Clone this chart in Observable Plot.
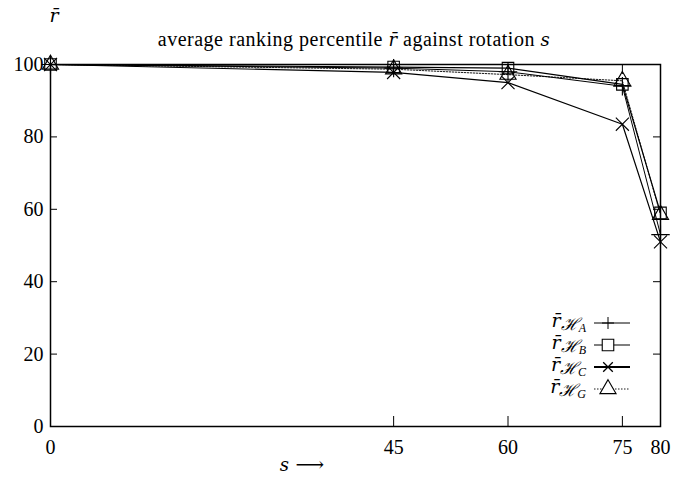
<!DOCTYPE html>
<html><head><meta charset="utf-8">
<script src="https://cdn.jsdelivr.net/npm/d3@7"></script>
<script src="https://cdn.jsdelivr.net/npm/@observablehq/plot@0.6"></script>
<style>body{margin:0;background:#fff;}</style>
</head><body><div id="chart"></div>
<script>
const rotation = [0, 45, 60, 75, 80];
const rA = [100, 99.0, 98.0, 94.0, 53.0];
const rB = [100, 99.3, 99.0, 94.5, 59.0];
const rC = [100, 97.8, 95.0, 83.5, 51.0];
const rG = [100, 98.7, 97.2, 95.5, 58.5];
const seriesNames = ["A", "B", "C", "G"];
const xTicks = [0, 45, 60, 75, 80];
const yTicks = [0, 20, 40, 60, 80, 100];
const innerXTicks = [45, 60, 75];
const innerYTicks = [20, 40, 60, 80];

const seriesVals = [rA, rB, rC, rG];
const styles = {
  A: {symbol: "plus", width: 1, dash: null, r: 6},
  B: {symbol: "square", width: 1.2, dash: null, r: 6.5},
  C: {symbol: "times", width: 1.2, dash: null, r: 6},
  G: {symbol: "triangle", width: 0.9, dash: "1.5,1.5", r: 6}
};
const rows = [];
seriesNames.forEach((n, i) => rotation.forEach((s, j) => rows.push({series: n, s, r: seriesVals[i][j]})));

const W = 673, H = 477;
const mL = 50, mR = 13, mT = 64, mB = 51;
const pw = W - mL - mR, ph = H - mT - mB;
const font = "Liberation Serif";
const italicFont = "DejaVu Serif";

const marks = [];
seriesNames.forEach(n => {
  const st = styles[n];
  const d = rows.filter(r => r.series === n);
  marks.push(Plot.line(d, {x: "s", y: "r", stroke: "black", strokeWidth: st.width, strokeDasharray: st.dash}));
  marks.push(Plot.dot(d, {x: "s", y: "r", symbol: () => st.symbol, r: st.r, stroke: "black", fill: "none", strokeWidth: 1.1}));
});

const chart = Plot.plot({
  width: W, height: H,
  marginLeft: mL, marginRight: mR, marginTop: mT, marginBottom: mB,
  style: {fontFamily: font, fontSize: "20px", color: "black", background: "white"},
  x: {domain: [0, 80], ticks: xTicks, label: null},
  y: {domain: [0, 100], ticks: yTicks, label: null},
  marks: [
    Plot.axisX({ticks: xTicks, tickSize: 0, tickPadding: 13, fontSize: 20, label: null}),
    Plot.axisY({ticks: yTicks, tickSize: 0, tickPadding: 7, fontSize: 20, label: null}),
    Plot.ruleY(innerYTicks, {stroke: "black", strokeWidth: 1, insetRight: pw - 7}),
    Plot.ruleY(innerYTicks, {stroke: "black", strokeWidth: 1, insetLeft: pw - 7}),
    Plot.ruleX(innerXTicks, {stroke: "black", strokeWidth: 1, insetTop: ph - 10}),
    Plot.ruleX(innerXTicks, {stroke: "black", strokeWidth: 1, insetBottom: ph - 10}),
    ...marks,
    Plot.frame({stroke: "black", strokeWidth: 1.5})
  ]
});
document.getElementById("chart").appendChild(chart);

const svg = d3.select(chart);
function span(sel, txt, opts = {}) {
  const s = sel.append("tspan").attr("font-family", opts.family || (opts.italic ? italicFont : font)).text(txt);
  if (opts.italic) s.attr("font-style", "italic");
  if (opts.size) s.attr("font-size", opts.size);
  if (opts.dy) s.attr("dy", opts.dy);
  return s;
}
// y label
const yl = svg.append("text").attr("x", 54).attr("y", 22).attr("text-anchor", "middle")
  .attr("font-family", font).attr("font-size", 19);
span(yl, "r\u0304", {italic: true});
// title
const t = svg.append("text").attr("x", mL + pw / 2 - 1).attr("y", 46).attr("text-anchor", "middle")
  .attr("font-family", font).attr("font-size", 20).attr("letter-spacing", 0.5);
span(t, "average ranking percentile ");
span(t, "r\u0304", {italic: true, size: 18});
span(t, " against rotation ");
span(t, "s", {italic: true, size: 18});
// x label
const xl = svg.append("text").attr("x", 302).attr("y", 471).attr("text-anchor", "middle")
  .attr("font-family", font).attr("font-size", 20);
span(xl, "s", {italic: true, size: 18});
span(xl, " \u27F6", {family: "DejaVu Serif"});

// legend
const lg = svg.append("g");
const legendY = [323, 345, 367, 389];
seriesNames.forEach((n, i) => {
  const st = styles[n];
  const y = legendY[i];
  const tx = lg.append("text").attr("x", 586).attr("y", y + 4).attr("text-anchor", "end")
    .attr("font-family", font).attr("font-size", 19);
  span(tx, "r\u0304", {italic: true});
  span(tx, "\u210B", {family: font, italic: true, size: 17, dy: 3});
  span(tx, n, {family: font, italic: true, size: 12, dy: 2});
  lg.append("line").attr("x1", 594).attr("x2", 630).attr("y1", y).attr("y2", y)
    .attr("stroke", "black").attr("stroke-width", n === "C" ? 2 : st.width).attr("stroke-dasharray", st.dash);
  if (st.symbol === "plus") {
    lg.append("path").attr("d", `M${608 - st.r},${y}H${608 + st.r}M608,${y - st.r}V${y + st.r}`).attr("stroke", "black").attr("fill", "none");
  } else if (st.symbol === "times") {
    const k = st.r * 0.8;
    lg.append("path").attr("d", `M${608 - k},${y - k}L${608 + k},${y + k}M${608 - k},${y + k}L${608 + k},${y - k}`).attr("stroke", "black").attr("stroke-width", 1.3).attr("fill", "none");
  } else {
    const sym = st.symbol === "square" ? d3.symbolSquare : d3.symbolTriangle;
    lg.append("path").attr("transform", `translate(608,${y})`).attr("d", d3.symbol(sym, st.r * st.r * Math.PI)())
      .attr("stroke", "black").attr("fill", "white").attr("stroke-width", 1.1);
  }
});
</script></body></html>
